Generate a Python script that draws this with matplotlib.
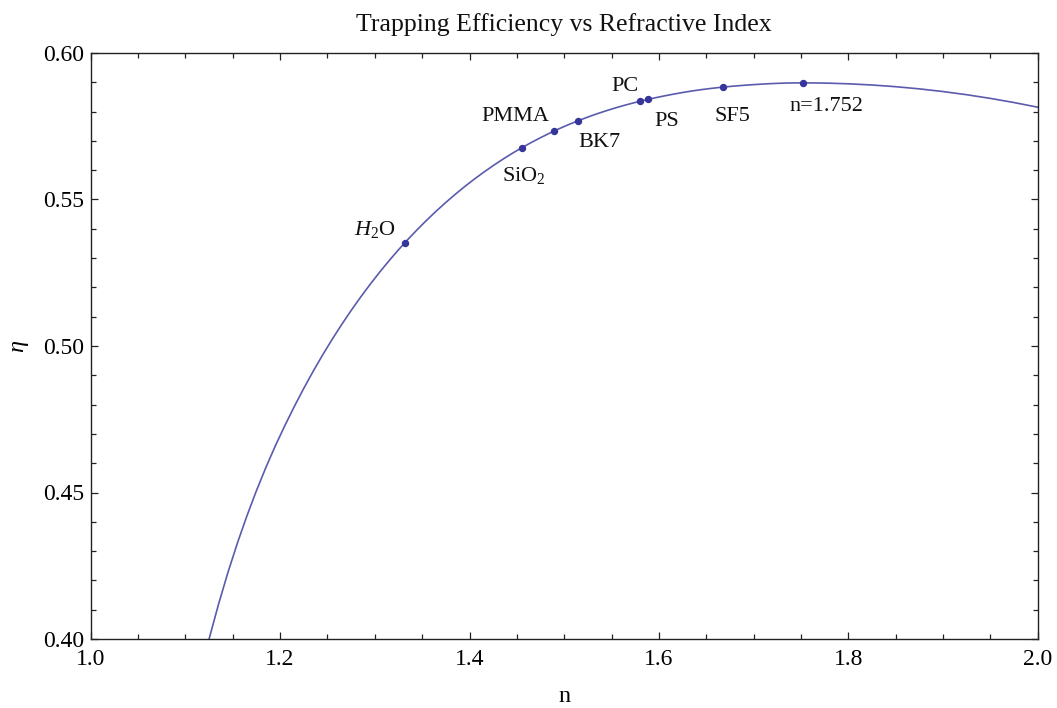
import numpy as np
import matplotlib
matplotlib.use("Agg")
import matplotlib.pyplot as plt
from matplotlib.ticker import MultipleLocator, FormatStrFormatter

plt.rcParams["font.family"] = ["Liberation Serif", "DejaVu Serif"]
plt.rcParams["mathtext.fontset"] = "custom"
plt.rcParams["mathtext.rm"] = "Liberation Serif"
plt.rcParams["mathtext.it"] = "Liberation Serif:italic"
plt.rcParams["mathtext.bf"] = "Liberation Serif:bold"

# trapping efficiency eta as a function of refractive index n
n_curve = [1.125, 1.135, 1.145, 1.155, 1.165, 1.175, 1.185, 1.195, 1.205,
           1.215, 1.225, 1.235, 1.245, 1.255, 1.265, 1.275, 1.285, 1.295,
           1.305, 1.315, 1.325, 1.335, 1.345, 1.355, 1.365, 1.375, 1.385,
           1.395, 1.405, 1.415, 1.425, 1.435, 1.445, 1.455, 1.465, 1.475,
           1.485, 1.495, 1.505, 1.515, 1.525, 1.535, 1.545, 1.555, 1.565,
           1.575, 1.585, 1.595, 1.605, 1.615, 1.625, 1.635, 1.645, 1.655,
           1.665, 1.675, 1.685, 1.695, 1.705, 1.715, 1.725, 1.735, 1.745,
           1.752, 1.765, 1.780, 1.800, 1.825, 1.850, 1.875, 1.900, 1.925,
           1.950, 1.975, 2.000]
eta_curve = [0.40000, 0.41189, 0.42280, 0.43283, 0.44205, 0.45061, 0.45855,
             0.46595, 0.47282, 0.47935, 0.48554, 0.49142, 0.49700, 0.50229,
             0.50732, 0.51211, 0.51667, 0.52101, 0.52515, 0.52908, 0.53283,
             0.53639, 0.53978, 0.54301, 0.54608, 0.54900, 0.55178, 0.55443,
             0.55694, 0.55931, 0.56156, 0.56370, 0.56572, 0.56763, 0.56941,
             0.57110, 0.57270, 0.57421, 0.57561, 0.57692, 0.57814, 0.57929,
             0.58035, 0.58135, 0.58227, 0.58312, 0.58391, 0.58464, 0.58531,
             0.58593, 0.58651, 0.58704, 0.58750, 0.58791, 0.58827, 0.58858,
             0.58886, 0.58910, 0.58931, 0.58950, 0.58964, 0.58974, 0.58980,
             0.58980, 0.58978, 0.58969, 0.58949, 0.58908, 0.58850, 0.58776,
             0.58684, 0.58576, 0.58451, 0.58309, 0.58150]

# materials marked on the curve
materials = [r"$H_2\mathrm{O}$", r"SiO$_2$", "PMMA", "BK7", "PC", "PS", "SF5",
             "n=1.752"]
mat_n = [1.332, 1.455, 1.489, 1.515, 1.580, 1.588, 1.668, 1.752]
mat_eta = [0.53532, 0.56763, 0.57330, 0.57692, 0.58352, 0.58413, 0.58836,
           0.58980]

x_ticks = [1.0, 1.2, 1.4, 1.6, 1.8, 2.0]
y_ticks = [0.40, 0.45, 0.50, 0.55, 0.60]

# label offsets (pixels) from each marker
label_offsets = [(-30, 8), (2, -33), (-38, 10), (21, -26), (-15, 10),
                 (19, -27), (9, -34), (24, -28)]

W, H = 1057, 708
fig = plt.figure(figsize=(W / 100, H / 100), dpi=100)
ax = fig.add_axes([90.7 / W, 1 - 639 / H, 947 / W, 586 / H])

line_col = "#5b5bae"
dot_col = "#35359c"
frame_col = "#222222"

ax.plot(n_curve, eta_curve, color=line_col, lw=1.2, solid_joinstyle="round",
        zorder=2)
ax.plot(mat_n, mat_eta, "o", ms=4.3, color=dot_col, mec=dot_col, zorder=3)

for name, xv, yv, (dx, dy) in zip(materials, mat_n, mat_eta, label_offsets):
    ax.annotate(name, (xv, yv), xytext=(dx, dy), textcoords="offset pixels",
                ha="center", va="baseline", fontsize=16, color="#111111")

ax.set_xlim(1.0, 2.0)
ax.set_ylim(0.40, 0.60)
ax.set_xticks(x_ticks)
ax.set_yticks(y_ticks)
ax.xaxis.set_major_formatter(FormatStrFormatter("%.1f"))
ax.yaxis.set_major_formatter(FormatStrFormatter("%.2f"))
ax.xaxis.set_minor_locator(MultipleLocator(0.05))
ax.yaxis.set_minor_locator(MultipleLocator(0.01))

ax.tick_params(which="both", direction="in", top=True, right=True,
               color=frame_col, width=0.9)
ax.tick_params(which="major", length=5.2)
ax.tick_params(which="minor", length=3.4)
ax.tick_params(axis="x", which="major", pad=7.5, labelsize=17)
ax.tick_params(axis="y", which="major", pad=5, labelsize=17)

for sp in ax.spines.values():
    sp.set_color(frame_col)
    sp.set_linewidth(1.0)

ax.set_title("Trapping Efficiency vs Refractive Index", fontsize=18.5,
             pad=15.8, color="#111111")
ax.set_xlabel("n", fontsize=17.5)
ax.xaxis.set_label_coords(0.5, -0.081)
ax.set_ylabel(r"$\eta$", fontsize=17.5)
ax.yaxis.set_label_coords(-0.063, 0.5)

fig.savefig("out.png", dpi=100, facecolor="white")
